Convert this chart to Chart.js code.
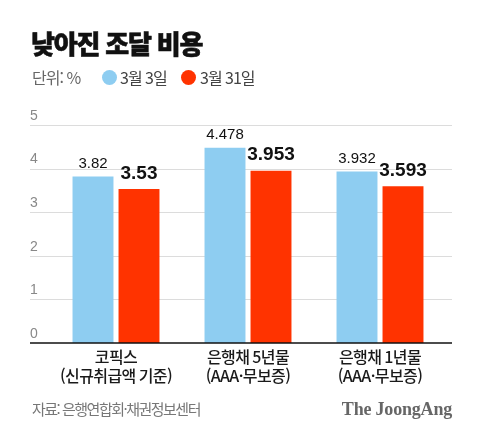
<!DOCTYPE html>
<html lang="ko">
<head>
  <meta charset="UTF-8">
  <title>낮아진 조달 비용</title>
  <style>
    body { margin: 0; background: #fff; }
    .wrap { position: relative; width: 480px; height: 439px; overflow: hidden; font-family: "Noto Sans CJK KR", sans-serif; }
    #myChart { position: absolute; left: 0; top: 0; }
    .title { position: absolute; left: 31px; top: 30px; font-size: 26px; line-height: 26px; font-weight: 900; color: #111; letter-spacing: -1.2px; -webkit-text-stroke: 0.6px #111; }
    .unit { position: absolute; left: 32px; top: 68px; font-size: 16px; line-height: 18px; color: #666; letter-spacing: -1px; }
    .legend { position: absolute; top: 68px; font-size: 16px; line-height: 18px; color: #444; letter-spacing: -1px; }
    .dot { position: absolute; width: 15px; height: 15px; border-radius: 50%; top: 70px; }
    .source { position: absolute; left: 32px; top: 400px; font-size: 15px; line-height: 18px; color: #777; letter-spacing: -1.5px; }
    .logo { position: absolute; right: 28px; top: 399px; font-family: "Liberation Serif", serif; font-weight: 700; font-size: 18px; line-height: 20px; color: #666; letter-spacing: -0.2px; }
  </style>
</head>
<body>
<div class="wrap">
  <canvas id="myChart" width="480" height="439"></canvas>
  <div class="title">낮아진 조달 비용</div>
  <div class="unit">단위: %</div>
  <div class="dot" id="dot0" style="left: 102px"></div>
  <div class="legend" id="leg0" style="left: 120px"></div>
  <div class="dot" id="dot1" style="left: 181px"></div>
  <div class="legend" id="leg1" style="left: 200px"></div>
  <div class="source">자료: 은행연합회·채권정보센터</div>
  <div class="logo">The JoongAng</div>
</div>

<script src="https://cdn.jsdelivr.net/npm/chart.js"></script>
<script>
  const categories = [
    ['코픽스', '(신규취급액 기준)'],
    ['은행채 5년물', '(AAA·무보증)'],
    ['은행채 1년물', '(AAA·무보증)']
  ];
  const seriesNames = ['3월 3일', '3월 31일'];
  const march3 = [3.82, 4.478, 3.932];
  const march31 = [3.53, 3.953, 3.593];
  const yTicks = [0, 1, 2, 3, 4, 5];

  const colors = ['#8ecdf1', '#ff3300'];

  // legend in html
  for (let i = 0; i < seriesNames.length; i++) {
    document.getElementById('dot' + i).style.background = colors[i];
    document.getElementById('leg' + i).textContent = seriesNames[i];
  }

  // gridlines wider than the category area + black baseline
  const gridPlugin = {
    id: 'gridLines',
    beforeDraw(chart) {
      chart.ctx.letterSpacing = '-0.6px';
    },
    beforeDatasetsDraw(chart) {
      const ctx = chart.ctx;
      const y = chart.scales.y;
      const a = chart.chartArea;
      ctx.save();
      ctx.letterSpacing = '0px';
      ctx.strokeStyle = '#dcdcdc';
      ctx.lineWidth = 1;
      y.ticks.forEach(t => {
        if (t.value === 0) return;
        const py = Math.round(y.getPixelForValue(t.value)) + 0.5;
        ctx.beginPath();
        ctx.moveTo(a.left - 20, py);
        ctx.lineTo(a.right + 6, py);
        ctx.stroke();
      });
      ctx.restore();
    },
    afterDatasetsDraw(chart) {
      const ctx = chart.ctx;
      const y = chart.scales.y;
      const a = chart.chartArea;
      ctx.save();
      ctx.letterSpacing = '0px';
      ctx.strokeStyle = '#111';
      ctx.lineWidth = 1.5;
      const py = y.getPixelForValue(0);
      ctx.beginPath();
      ctx.moveTo(a.left - 20, py);
      ctx.lineTo(a.right + 6, py);
      ctx.stroke();

      // value labels
      ctx.textAlign = 'center';
      ctx.textBaseline = 'bottom';
      chart.data.datasets.forEach((ds, di) => {
        const meta = chart.getDatasetMeta(di);
        ctx.font = di === 0 ? '15px "Liberation Sans", Arial' : 'bold 19px "Liberation Sans", Arial';
        ctx.fillStyle = '#111';
        meta.data.forEach((bar, i) => {
          ctx.fillText(String(ds.data[i]), bar.x, bar.y - (di === 0 ? 5 : 6));
        });
      });
      ctx.restore();
    }
  };

  const ctx = document.getElementById('myChart');
  const myChart = new Chart(ctx, {
    type: 'bar',
    data: {
      labels: categories,
      datasets: [{
        label: seriesNames[0],
        data: march3,
        backgroundColor: colors[0],
        borderWidth: 0
      }, {
        label: seriesNames[1],
        data: march31,
        backgroundColor: colors[1],
        borderWidth: 0
      }]
    },
    options: {
      responsive: false,
      maintainAspectRatio: false,
      animation: false,
      layout: {
        padding: { left: 30, right: 34, top: 125, bottom: 0 }
      },
      plugins: {
        legend: { display: false },
        tooltip: { enabled: false }
      },
      datasets: {
        bar: { categoryPercentage: 0.697, barPercentage: 0.89 }
      },
      scales: {
        x: {
          grid: { display: false, drawTicks: false },
          border: { display: false },
          ticks: {
            color: '#1a1a1a',
            padding: 5,
            maxRotation: 0,
            autoSkip: false,
            font: { family: '"Noto Sans CJK KR"', size: 16, weight: '500', lineHeight: 1.15 }
          },
          afterFit(scale) { scale.height = 96; }
        },
        y: {
          min: 0,
          max: 5,
          afterBuildTicks(scale) { scale.ticks = yTicks.map(v => ({ value: v })); },
          grid: { display: false, drawTicks: false },
          border: { display: false },
          ticks: {
            color: '#888',
            crossAlign: 'far',
            padding: 0,
            labelOffset: -9,
            font: { family: '"Liberation Sans", Arial', size: 14 }
          },
          afterFit(scale) { scale.width = 20; }
        }
      }
    },
    plugins: [gridPlugin]
  });
</script>
</body>
</html>
